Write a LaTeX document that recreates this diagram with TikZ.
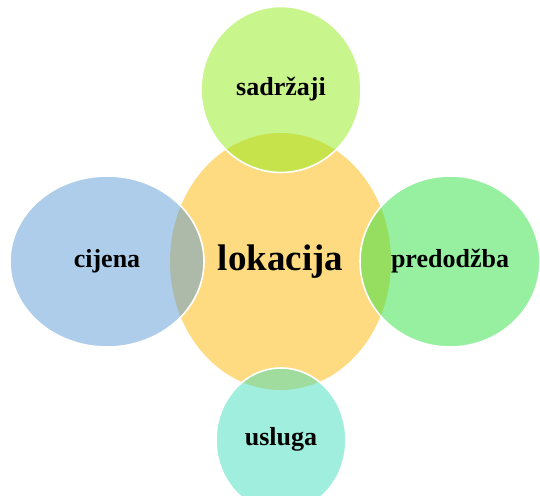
\documentclass[tikz,border=0pt]{standalone}
\usepackage{fontspec}
\setmainfont{Liberation Serif}
\usetikzlibrary{shapes.geometric}
\definecolor{corec}{RGB}{254,219,128}
\definecolor{topc}{RGB}{145,235,25}
\definecolor{leftc}{RGB}{93,155,213}
\definecolor{rightc}{RGB}{45,225,65}
\definecolor{botc}{RGB}{65,221,189}
\tikzset{
  core/.style={ellipse, inner sep=0pt, fill=corec, font=\bfseries\fontsize{37}{40}\selectfont},
  petal/.style={ellipse, inner sep=0pt, fill=#1, fill opacity=0.5, text opacity=1, draw=white, line width=1.6pt, font=\bfseries\fontsize{26}{30}\selectfont}
}
\begin{document}
\begin{tikzpicture}[x=1pt,y=-1pt]
\useasboundingbox (0,0) rectangle (540,495);
\clip (0,0) rectangle (540,495);
\node[core, minimum width=221pt, minimum height=257pt] (c) at (280.5,261.5) {lokacija};
\node[petal=topc, minimum width=160pt, minimum height=166pt] (t) at (281,89.5) {sadržaji};
\node[petal=leftc, minimum width=194pt, minimum height=171pt] (l) at (107,261.5) {cijena};
\node[petal=rightc, minimum width=180pt, minimum height=171pt] (r) at (450,261.5) {predodžba};
\node[petal=botc, minimum width=130pt, minimum height=144pt] (b) at (281,440) {\raisebox{8pt}{usluga}};
\end{tikzpicture}
\end{document}
